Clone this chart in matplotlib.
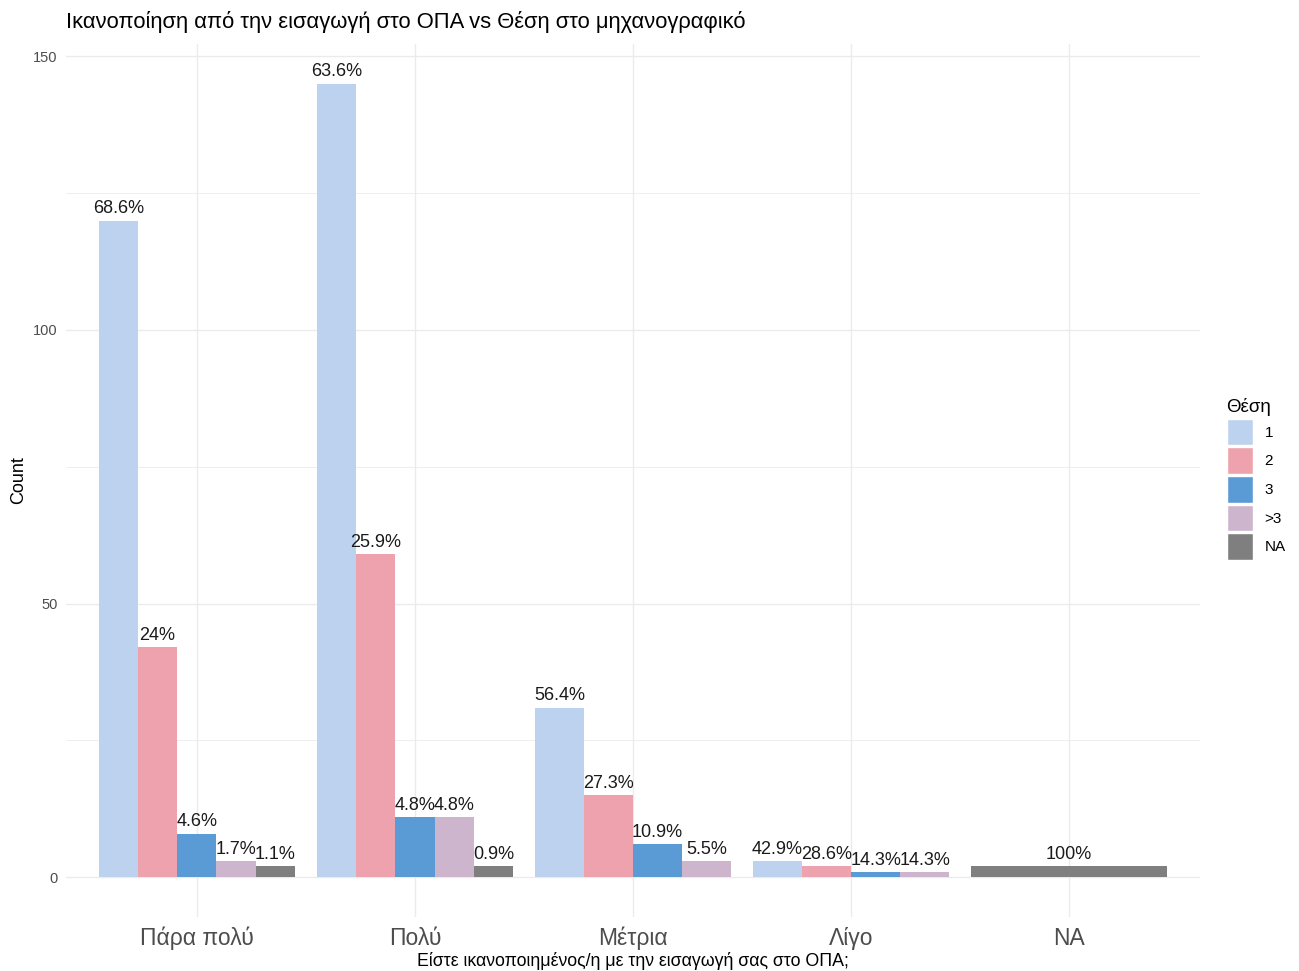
import matplotlib.pyplot as plt
from matplotlib.patches import Patch

plt.rcParams['font.family'] = ['Liberation Sans', 'DejaVu Sans']

# κατηγορίες ικανοποίησης και πλήθος ανά θέση (None = δεν υπάρχει ομάδα)
categories = ["Πάρα πολύ", "Πολύ", "Μέτρια", "Λίγο", "NA"]
groups = ["1", "2", "3", ">3", "NA"]
counts_1 = [120, 145, 31, 3, None]
counts_2 = [42, 59, 15, 2, None]
counts_3 = [8, 11, 6, 1, None]
counts_gt3 = [3, 11, 3, 1, None]
counts_na = [2, 2, None, None, 2]

colors = ["#BDD2EE", "#EEA2AD", "#5B9BD5", "#CDB5CD", "#7F7F7F"]

series = [counts_1, counts_2, counts_3, counts_gt3, counts_na]

fig = plt.figure(figsize=(12.99, 9.71), dpi=100)
ax = fig.add_axes([0.0508, 0.0556, 0.8730, 0.8991])

for i, cat in enumerate(categories):
    present = [(j, s[i]) for j, s in enumerate(series) if s[i] is not None]
    n = len(present)
    total = sum(v for _, v in present)
    w = 0.9 / n
    for k, (j, v) in enumerate(present):
        x = i + 1 - 0.45 + (k + 0.5) * w
        ax.bar(x, v, width=w, color=colors[j], zorder=2)
        pct = round(v / total * 100, 1)
        ax.text(x, v + 0.6, f"{pct:g}%", ha="center", va="bottom",
                fontsize=13, color="#1A1A1A", zorder=3)

ax.set_xlim(0.4, 5.6)
ax.set_ylim(-7.25, 152.25)
ax.set_xticks(range(1, 6))
ax.set_xticklabels(categories, fontsize=16.5, color="#4D4D4D")
ax.set_yticks([0, 50, 100, 150])
ax.set_yticks([25, 75, 125], minor=True)
ax.tick_params(axis="y", labelsize=10.5, colors="#4D4D4D", length=0, pad=6)
ax.tick_params(axis="x", length=0, pad=7)
ax.tick_params(which="minor", length=0)
ax.grid(True, which="major", color="#EBEBEB", linewidth=1.0, zorder=0)
ax.grid(True, which="minor", axis="y", color="#EBEBEB", linewidth=0.6, zorder=0)
for sp in ax.spines.values():
    sp.set_visible(False)

ax.set_xlabel("Είστε ικανοποιημένος/η με την εισαγωγή σας στο ΟΠΑ;", fontsize=12.8, labelpad=1)
ax.set_ylabel("Count", fontsize=13, labelpad=4)
fig.text(0.051, 0.977, "Ικανοποίηση από την εισαγωγή στο ΟΠΑ vs Θέση στο μηχανογραφικό",
         fontsize=15.8, va="center", ha="left")

handles = [Patch(facecolor=c, edgecolor="white") for c in colors]
leg = fig.legend(handles, groups, title="Θέση", loc="upper left",
                 bbox_to_anchor=(0.9395, 0.596), frameon=False, fontsize=11,
                 title_fontsize=13.5, handlelength=1.75, handleheight=2.3,
                 handletextpad=0.75, labelspacing=0.14, borderaxespad=0)
leg._legend_box.align = "left"

fig.savefig("out.png", dpi=100)
